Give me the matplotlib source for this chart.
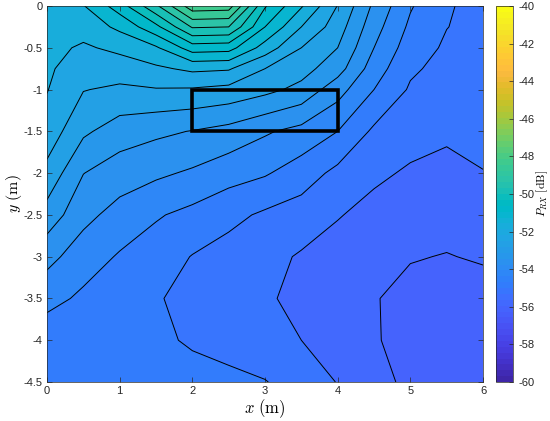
import numpy as np
import matplotlib
matplotlib.use("Agg")
import matplotlib.pyplot as plt
from matplotlib.colors import ListedColormap, Normalize
from matplotlib.patches import Rectangle
from matplotlib.cm import ScalarMappable

plt.rcParams["font.family"] = ["Liberation Sans", "DejaVu Sans"]
plt.rcParams["mathtext.fontset"] = "cm"
plt.rcParams["axes.unicode_minus"] = False

# measurement grid (m)
x_m = [0.0, 0.5, 1.0, 1.5, 2.0, 2.5, 3.0, 3.5, 4.0, 4.5, 5.0, 5.5, 6.0]
y_m = [0.0, -0.25, -0.5, -0.75, -1.0, -1.5, -2.0, -2.5, -3.0, -3.5, -4.0, -4.5]

# received power (dB), one list per x column, top (y=0) to bottom (y=-4.5)
p_x0_0 = [-51.70, -51.78, -51.85, -51.92, -51.98, -52.20, -52.65, -53.20, -53.85, -54.32, -54.85, -54.95]
p_x0_5 = [-51.53, -51.80, -52.07, -52.28, -52.48, -52.91, -53.49, -53.86, -54.25, -54.60, -54.78, -54.88]
p_x1_0 = [-50.75, -51.39, -51.88, -52.26, -52.59, -53.25, -53.76, -54.18, -54.55, -54.75, -54.85, -54.90]
p_x1_5 = [-49.60, -50.64, -51.57, -52.09, -52.53, -53.40, -53.91, -54.45, -54.75, -54.93, -54.92, -54.85]
p_x2_0 = [-48.20, -49.45, -50.75, -51.90, -52.55, -53.52, -54.07, -54.64, -55.02, -55.25, -55.05, -54.85]
p_x2_5 = [-48.25, -49.50, -50.80, -51.95, -52.65, -53.67, -54.30, -54.86, -55.20, -55.35, -55.15, -54.90]
p_x3_0 = [-50.45, -51.00, -51.72, -52.50, -52.86, -53.94, -54.45, -55.08, -55.35, -55.45, -55.30, -54.98]
p_x3_5 = [-51.45, -52.00, -52.50, -52.81, -53.14, -54.16, -54.75, -55.23, -55.55, -55.60, -55.50, -55.20]
p_x4_0 = [-52.52, -52.76, -53.00, -53.29, -53.80, -54.50, -55.13, -55.47, -55.70, -55.80, -55.70, -55.52]
p_x4_5 = [-53.60, -53.80, -54.00, -54.25, -54.50, -55.09, -55.41, -55.65, -55.85, -55.97, -55.95, -55.85]
p_x5_0 = [-54.45, -54.60, -54.76, -54.92, -55.06, -55.32, -55.56, -55.77, -55.97, -56.15, -56.20, -56.10]
p_x5_5 = [-54.97, -54.99, -55.07, -55.16, -55.25, -55.43, -55.62, -55.82, -56.02, -56.20, -56.30, -56.30]
p_x6_0 = [-55.10, -55.15, -55.20, -55.25, -55.30, -55.40, -55.51, -55.73, -55.95, -56.20, -56.35, -56.40]

p_columns = [p_x0_0, p_x0_5, p_x1_0, p_x1_5, p_x2_0, p_x2_5, p_x3_0,
             p_x3_5, p_x4_0, p_x4_5, p_x5_0, p_x5_5, p_x6_0]

x_ticks = [0, 1, 2, 3, 4, 5, 6]
y_ticks = [0, -0.5, -1, -1.5, -2, -2.5, -3, -3.5, -4, -4.5]
y_tick_labels = ["0", "-0.5", "-1", "-1.5", "-2", "-2.5", "-3", "-3.5", "-4", "-4.5"]
cb_ticks = [-60, -58, -56, -54, -52, -50, -48, -46, -44, -42, -40]

# MATLAB parula (64 entries)
PARULA = [
    (0.2422, 0.1504, 0.6603), (0.2504, 0.1650, 0.7076), (0.2578, 0.1818, 0.7511),
    (0.2647, 0.1978, 0.7952), (0.2706, 0.2147, 0.8364), (0.2751, 0.2342, 0.8710),
    (0.2783, 0.2559, 0.8991), (0.2803, 0.2782, 0.9221), (0.2813, 0.3006, 0.9414),
    (0.2810, 0.3228, 0.9579), (0.2795, 0.3447, 0.9717), (0.2760, 0.3667, 0.9829),
    (0.2699, 0.3892, 0.9906), (0.2602, 0.4123, 0.9952), (0.2440, 0.4358, 0.9988),
    (0.2206, 0.4603, 0.9973), (0.1963, 0.4847, 0.9892), (0.1834, 0.5074, 0.9798),
    (0.1786, 0.5289, 0.9682), (0.1764, 0.5499, 0.9520), (0.1687, 0.5703, 0.9359),
    (0.1540, 0.5902, 0.9218), (0.1460, 0.6091, 0.9079), (0.1380, 0.6276, 0.8973),
    (0.1248, 0.6459, 0.8883), (0.1113, 0.6635, 0.8763), (0.0952, 0.6798, 0.8598),
    (0.0689, 0.6948, 0.8394), (0.0297, 0.7082, 0.8163), (0.0036, 0.7203, 0.7917),
    (0.0067, 0.7312, 0.7660), (0.0433, 0.7411, 0.7394), (0.0964, 0.7500, 0.7120),
    (0.1408, 0.7584, 0.6842), (0.1717, 0.7670, 0.6554), (0.1938, 0.7758, 0.6251),
    (0.2161, 0.7843, 0.5923), (0.2470, 0.7918, 0.5567), (0.2906, 0.7973, 0.5188),
    (0.3406, 0.8008, 0.4789), (0.3909, 0.8029, 0.4354), (0.4456, 0.8024, 0.3909),
    (0.5044, 0.7993, 0.3480), (0.5616, 0.7942, 0.3045), (0.6174, 0.7876, 0.2612),
    (0.6720, 0.7793, 0.2227), (0.7242, 0.7698, 0.1910), (0.7738, 0.7598, 0.1646),
    (0.8203, 0.7498, 0.1535), (0.8634, 0.7406, 0.1596), (0.9035, 0.7330, 0.1774),
    (0.9393, 0.7288, 0.2100), (0.9728, 0.7298, 0.2394), (0.9956, 0.7434, 0.2371),
    (0.9970, 0.7659, 0.2199), (0.9952, 0.7893, 0.2028), (0.9892, 0.8136, 0.1885),
    (0.9786, 0.8386, 0.1766), (0.9676, 0.8639, 0.1643), (0.9610, 0.8890, 0.1537),
    (0.9597, 0.9135, 0.1423), (0.9628, 0.9373, 0.1265), (0.9691, 0.9606, 0.1064),
    (0.9769, 0.9839, 0.0805),
]
parula = ListedColormap(PARULA, name="parula")
norm = Normalize(vmin=-60, vmax=-40)

X, Y = np.meshgrid(x_m, y_m)
Z = np.array(p_columns).T
levels = np.arange(-60, -39.9, 0.5)

fig = plt.figure(figsize=(5.5, 4.21), dpi=100)
ax = fig.add_axes([0.0855, 0.0926, 0.7927, 0.8931])

ax.contourf(X, Y, Z, levels=levels, cmap=parula, norm=norm)
ax.contour(X, Y, Z, levels=levels, colors="k", linewidths=0.7, linestyles="solid")
ax.add_patch(Rectangle((2, -1.5), 2, 0.5, fill=False, edgecolor="k", linewidth=2.6, zorder=5))

ax.set_xlim(0, 6)
ax.set_ylim(-4.5, 0)
ax.set_xticks(x_ticks)
ax.set_xticklabels([str(t) for t in x_ticks])
ax.set_yticks(y_ticks)
ax.set_yticklabels(y_tick_labels)
ax.tick_params(direction="in", top=True, right=True, length=3.5, width=0.5,
               labelsize=8, colors="#262626", pad=3)
for s in ax.spines.values():
    s.set_linewidth(0.5)
    s.set_color("#262626")
ax.set_xlabel(r"$x\ \mathrm{(m)}$", fontsize=12, labelpad=1)
ax.set_ylabel(r"$y\ \mathrm{(m)}$", fontsize=11.5, labelpad=0)

cax = fig.add_axes([0.902, 0.0926, 0.031, 0.8931])
sm = ScalarMappable(norm=norm, cmap=parula)
cb = fig.colorbar(sm, cax=cax, ticks=cb_ticks)
cb.ax.set_yticklabels([str(t) for t in cb_ticks])
cb.ax.tick_params(direction="in", length=3, width=0.5, labelsize=8, colors="#262626")
cb.outline.set_linewidth(0.5)
cb.outline.set_edgecolor("#262626")
cb.set_label(r"$P_{RX}\ \mathrm{[dB]}$", fontsize=8.5, labelpad=0)

fig.savefig("out.png", dpi=100)
